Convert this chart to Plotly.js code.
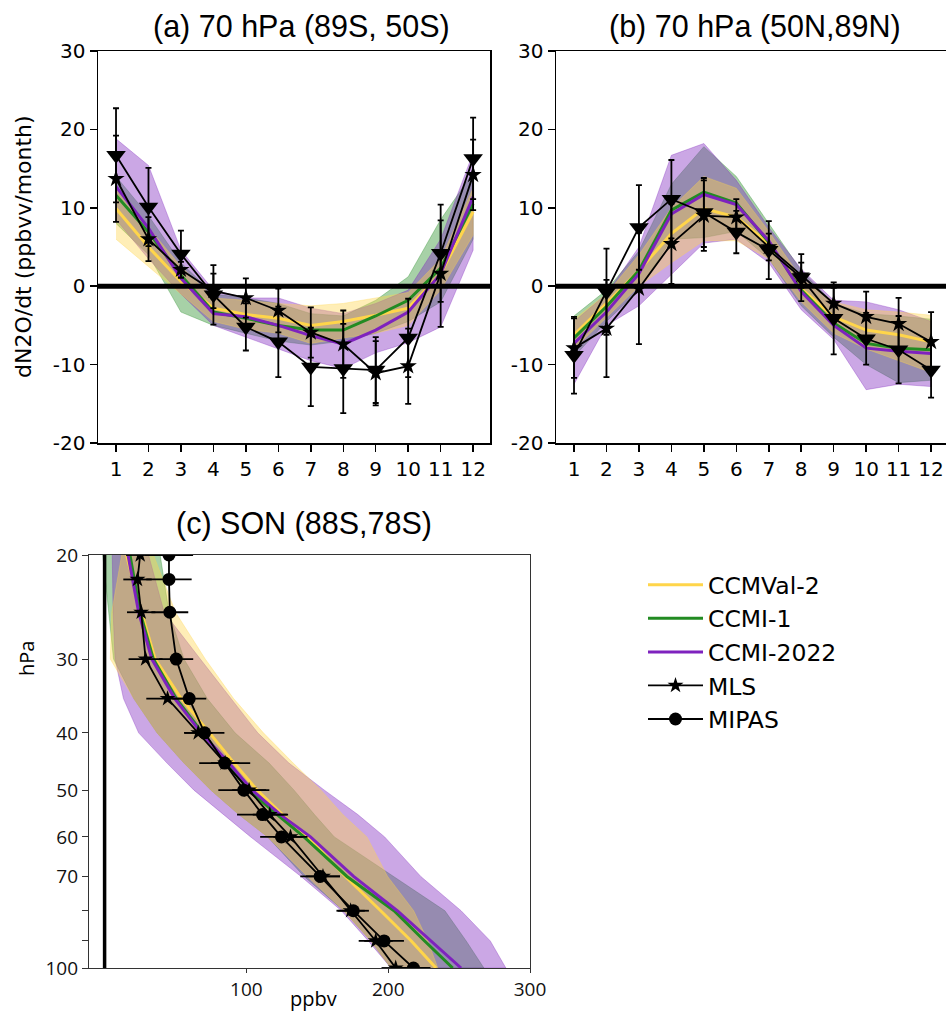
<!DOCTYPE html>
<html>
<head>
<meta charset="utf-8">
<script src="https://cdn.plot.ly/plotly-3.0.1.min.js"></script>
<style>html,body{margin:0;padding:0;background:#fff}#chart{width:946px;height:1011px}</style>
</head>
<body>
<div id="chart"></div>
<script>
// ---------- data ----------
const months = [1,2,3,4,5,6,7,8,9,10,11,12];
const monthLabels = ['1','2','3','4','5','6','7','8','9','10','11','12'];

// panel (a) 70 hPa (89S, 50S)
const a_mls      = [13.7, 6.0, 2.1, -0.6, -1.5, -3.1, -5.9, -7.4, -11.1, -10.2, 1.6, 14.2];
const a_mls_err  = [5.5, 2.8, 1.0, 2.2, 2.5, 2.8, 3.2, 4.3, 4.1, 4.8, 6.8, 4.5];
const a_tri      = [16.7, 10.1, 4.1, -1.1, -5.2, -7.1, -10.3, -10.5, -10.7, -6.6, 4.2, 16.3];
const a_tri_err  = [6.0, 5.0, 3.0, 3.8, 3.0, 4.5, 5.0, 5.7, 4.2, 5.0, 6.2, 5.2];
const a_ccmval    = [9.9, 5.0, 0.6, -2.8, -3.6, -4.1, -5.0, -4.5, -3.7, -2.8, 1.6, 9.5];
const a_ccmval_hi = [12.5, 7.5, 2.5, -1.5, -1.8, -2.2, -2.5, -2.2, -1.5, -0.8, 3.5, 12.5];
const a_ccmval_lo = [6.0, 2.5, -1.0, -4.5, -5.5, -6.0, -7.3, -6.6, -6.0, -5.0, -0.5, 6.5];
const a_ccmi1     = [11.6, 6.9, 1.4, -3.3, -4.1, -5.0, -5.6, -5.6, -3.8, -1.8, 2.3, 10.5];
const a_ccmi1_hi  = [14.0, 9.0, 3.0, -1.0, -1.5, -2.2, -3.5, -3.8, -1.8, 1.2, 8.5, 14.5];
const a_ccmi1_lo  = [8.0, 4.0, -3.3, -5.0, -6.0, -7.0, -7.5, -7.0, -6.0, -4.5, -2.0, 6.0];
const a_ccmi22    = [12.7, 7.4, 1.0, -3.5, -3.9, -5.0, -6.3, -7.4, -5.6, -3.3, 1.6, 11.4];
const a_ccmi22_hi = [18.8, 15.4, 4.6, -0.5, -1.5, -1.5, -2.8, -3.5, -2.2, -0.5, 6.0, 17.0];
const a_ccmi22_lo = [8.5, 3.5, -1.0, -5.0, -6.5, -8.0, -9.5, -10.5, -8.5, -7.2, -5.2, 4.6];

// panel (b) 70 hPa (50N, 89N)
const b_mls      = [-7.9, -5.4, -0.3, 5.4, 9.0, 8.8, 5.0, 1.4, -2.2, -3.9, -4.8, -7.1];
const b_mls_err  = [3.8, 6.2, 7.1, 5.1, 4.5, 2.3, 1.7, 1.6, 2.0, 3.2, 3.3, 3.8];
const b_tri      = [-8.8, -0.7, 7.5, 11.1, 9.4, 6.9, 4.6, 1.1, -4.1, -6.7, -8.1, -10.7];
const b_tri_err  = [4.9, 5.5, 5.4, 5.0, 4.4, 2.7, 3.7, 3.0, 4.6, 3.3, 4.3, 3.5];
const b_ccmval    = [-6.2, -2.2, 2.0, 6.7, 9.9, 8.8, 5.4, -0.3, -3.9, -5.6, -6.2, -7.1];
const b_ccmval_hi = [-4.2, -1.0, 4.0, 10.0, 14.0, 12.5, 7.0, 1.0, -2.0, -3.0, -3.3, -3.7];
const b_ccmval_lo = [-8.0, -4.0, 0.0, 3.0, 5.8, 5.8, 3.5, -2.0, -6.0, -8.0, -9.5, -11.0];
const b_ccmi1     = [-6.6, -2.6, 2.0, 9.7, 12.0, 10.6, 5.6, -0.5, -4.7, -7.3, -7.9, -8.1];
const b_ccmi1_hi  = [-3.8, -0.5, 4.5, 13.0, 17.8, 14.0, 8.0, 2.0, -2.2, -3.5, -3.8, -4.2];
const b_ccmi1_lo  = [-9.0, -4.5, -0.5, 6.0, 6.2, 7.0, 3.5, -2.5, -6.5, -10.0, -12.3, -12.0];
const b_ccmi22    = [-7.3, -3.3, 1.6, 9.2, 11.7, 10.4, 5.8, -0.7, -5.0, -7.9, -8.3, -8.6];
const b_ccmi22_hi = [-4.5, -1.0, 5.0, 16.7, 18.2, 13.5, 7.5, 2.2, -1.8, -2.0, -3.0, -4.5];
const b_ccmi22_lo = [-12.5, -5.0, -2.5, 1.5, 5.5, 6.0, 3.0, -3.0, -6.8, -13.2, -12.5, -12.8];

// panel (c) SON (88S,78S)
const pres_obs    = [20, 22, 25, 30, 35, 40, 45, 50, 55, 60, 70, 80, 90, 100];
const c_mipas     = [45.4, 45.4, 46, 50.5, 59.7, 70.5, 84.7, 98.2, 111.4, 124.7, 152, 175.4, 197.1, 217.8];
const c_mipas_err = [17, 16, 13, 12, 12, 14, 18, 18, 18, 15, 14, 11, 14, 12];
const c_mls       = [25.1, 23.2, 25.8, 28.9, 44.4, 66, 85, 101.9, 116.5, 131.1, 154, 173.5, 191.2, 205.3];
const c_mls_err   = [10, 10, 10, 12, 15, 10, 10, 12, 12, 12, 12, 10, 12, 10];
const pres_mod    = [20, 25, 30, 35, 40, 45, 50, 55, 60, 70, 80, 90, 100];
const c_ccmval    = [15.5, 26, 35.7, 54, 74, 91.3, 107.6, 125.4, 143, 169.8, 194.7, 216.3, 233.7];
const c_ccmval_lo = [12, 5, 4, 20.6, 37, 56, 75, 94.7, 115, 143, 168.6, 187.7, 202];
const c_ccmval_hi = [34.5, 50, 71, 91, 112, 133, 152.6, 168, 185, 199.6, 218, 228, 235];
const c_ccmi1     = [17.9, 25, 34.4, 50.5, 69, 86.6, 101.8, 121.7, 140.6, 170.9, 204.1, 225.7, 245.5];
const c_ccmi1_lo  = [-1.3, 2.8, 6.3, 20.6, 37, 56, 75, 94.7, 115, 140.7, 168.6, 187.7, 202];
const c_ccmi1_hi  = [39.2, 45.4, 56, 72.4, 92, 116, 133.6, 148, 162, 204, 240, 255, 267.5];
const c_ccmi22    = [16.5, 24, 33.3, 49.5, 68, 87.7, 104, 124, 145.2, 175.6, 206.4, 230.4, 251.4];
const c_ccmi22_lo = [5.4, 6, 7.4, 13.3, 24, 44, 63, 84, 103, 138.5, 167, 186, 202];
const c_ccmi22_hi = [31, 42, 67.5, 89, 108, 130, 155, 178.6, 197.5, 223, 251.4, 272, 283];

const pTickVals = [20, 30, 40, 50, 60, 70, 80, 90, 100];
const pTickText = ['20', '30', '40', '50', '60', '70', '', '', '100'];
const yTickVals = [-20, -10, 0, 10, 20, 30];
const yTickText = ['-20', '-10', '0', '10', '20', '30'];

// ---------- styles ----------
const C_YEL = '#FFD54A', C_GRN = '#228B22', C_PUR = '#7E22BE';
const F_YEL = 'rgba(255,213,74,0.4)', F_GRN = 'rgba(34,139,34,0.4)', F_PUR = 'rgba(126,34,190,0.4)';

function bandX(xs, hi, lo) { return { x: xs.concat(xs.slice().reverse()), y: hi.concat(lo.slice().reverse()) }; }
function bandY(ys, lo, hi) { return { x: lo.concat(hi.slice().reverse()), y: ys.concat(ys.slice().reverse()) }; }

const traces = [];
function monthPanel(xa, ya, ccmval, cvhi, cvlo, ccmi1, c1hi, c1lo, ccmi22, c2hi, c2lo, mls, mlsErr, tri, triErr) {
  [[c1hi, c1lo, F_GRN], [c2hi, c2lo, F_PUR], [cvhi, cvlo, F_YEL]].forEach(([hi, lo, col]) => {
    const b = bandX(months, hi, lo);
    traces.push({ x: b.x, y: b.y, xaxis: xa, yaxis: ya, type: 'scatter', mode: 'lines', fill: 'toself',
      fillcolor: col, line: { color: col, width: 0.8 }, showlegend: false, hoverinfo: 'skip' });
  });
  [[ccmval, C_YEL], [ccmi1, C_GRN], [ccmi22, C_PUR]].forEach(([v, col]) => {
    traces.push({ x: months, y: v, xaxis: xa, yaxis: ya, type: 'scatter', mode: 'lines',
      line: { color: col, width: 3 }, showlegend: false });
  });
  traces.push({ x: months, y: tri, xaxis: xa, yaxis: ya, type: 'scatter', mode: 'lines+markers',
    line: { color: 'black', width: 1.8 }, marker: { symbol: 'triangle-down', size: 17, color: 'black' },
    error_y: { type: 'data', array: triErr, visible: true, color: 'black', thickness: 1.8, width: 3 }, showlegend: false });
  traces.push({ x: months, y: mls, xaxis: xa, yaxis: ya, type: 'scatter', mode: 'lines+markers',
    line: { color: 'black', width: 1.8 }, marker: { symbol: 'star', size: 13, color: 'black' },
    error_y: { type: 'data', array: mlsErr, visible: true, color: 'black', thickness: 1.8, width: 3 }, showlegend: false });
}
monthPanel('x', 'y', a_ccmval, a_ccmval_hi, a_ccmval_lo, a_ccmi1, a_ccmi1_hi, a_ccmi1_lo, a_ccmi22, a_ccmi22_hi, a_ccmi22_lo, a_mls, a_mls_err, a_tri, a_tri_err);
monthPanel('x2', 'y2', b_ccmval, b_ccmval_hi, b_ccmval_lo, b_ccmi1, b_ccmi1_hi, b_ccmi1_lo, b_ccmi22, b_ccmi22_hi, b_ccmi22_lo, b_mls, b_mls_err, b_tri, b_tri_err);

// panel c
[[c_ccmi1_lo, c_ccmi1_hi, F_GRN], [c_ccmi22_lo, c_ccmi22_hi, F_PUR], [c_ccmval_lo, c_ccmval_hi, F_YEL]].forEach(([lo, hi, col]) => {
  const b = bandY(pres_mod, lo, hi);
  traces.push({ x: b.x, y: b.y, xaxis: 'x3', yaxis: 'y3', type: 'scatter', mode: 'lines', fill: 'toself',
    fillcolor: col, line: { color: col, width: 0.8 }, showlegend: false, hoverinfo: 'skip' });
});
[[c_ccmval, C_YEL, 'CCMVal-2'], [c_ccmi1, C_GRN, 'CCMI-1'], [c_ccmi22, C_PUR, 'CCMI-2022']].forEach(([v, col, nm]) => {
  traces.push({ x: v, y: pres_mod, xaxis: 'x3', yaxis: 'y3', type: 'scatter', mode: 'lines', name: nm,
    line: { color: col, width: 3 } });
});
traces.push({ x: c_mls, y: pres_obs, xaxis: 'x3', yaxis: 'y3', type: 'scatter', mode: 'lines+markers', name: 'MLS',
  line: { color: 'black', width: 1.8 }, marker: { symbol: 'star', size: 12, color: 'black' },
  error_x: { type: 'data', array: c_mls_err, visible: true, color: 'black', thickness: 1.8, width: 0 } });
traces.push({ x: c_mipas, y: pres_obs, xaxis: 'x3', yaxis: 'y3', type: 'scatter', mode: 'lines+markers', name: 'MIPAS',
  line: { color: 'black', width: 1.8 }, marker: { symbol: 'circle', size: 13, color: 'black' },
  error_x: { type: 'data', array: c_mipas_err, visible: true, color: 'black', thickness: 1.8, width: 0 } });

// ---------- layout ----------
const W = 946, H = 1011;
const px = v => v / W, py = v => 1 - v / H;
const tickFont = { family: 'DejaVu Sans', size: 20, color: 'black' };
const monthX = (dom, rng) => ({ domain: dom, range: rng, tickmode: 'array', tickvals: months, ticktext: monthLabels,
  ticks: 'outside', ticklen: 7, tickwidth: 1.5, tickcolor: 'black', showline: true, mirror: true, linecolor: 'black', linewidth: 1.5,
  showgrid: false, zeroline: false, tickfont: tickFont, fixedrange: true });
const valY = (dom, anchor) => ({ domain: dom, anchor: anchor, range: [-20, 30], tickmode: 'array', tickvals: yTickVals, ticktext: yTickText,
  ticks: 'outside', ticklen: 7, tickwidth: 1.5, tickcolor: 'black', showline: true, mirror: true, linecolor: 'black', linewidth: 1.5,
  showgrid: false, zeroline: false, tickfont: tickFont, fixedrange: true });

const layout = {
  width: W, height: H, margin: { l: 0, r: 0, t: 0, b: 0 }, paper_bgcolor: 'white', plot_bgcolor: 'white',
  xaxis: Object.assign(monthX([px(98), px(490)], [0.445, 12.52]), { anchor: 'y' }),
  yaxis: valY([py(443), py(51)], 'x'),
  xaxis2: Object.assign(monthX([px(556), 1], [0.445, 12.46]), { anchor: 'y2' }),
  yaxis2: valY([py(443), py(51)], 'x2'),
  xaxis3: { domain: [px(89), px(530)], anchor: 'y3', range: [-11, 300], tickmode: 'array', tickvals: [100, 200, 300],
    ticks: 'outside', ticklen: 4, tickcolor: '#333', showline: true, mirror: true, linecolor: '#333', linewidth: 1.2,
    showgrid: false, zeroline: false, tickfont: { family: 'Open Sans', size: 19, color: '#111' }, fixedrange: true },
  yaxis3: { domain: [py(968), py(555)], anchor: 'x3', type: 'log', range: [2, Math.log10(20)], tickmode: 'array',
    tickvals: pTickVals, ticktext: pTickText, ticks: 'outside', ticklen: 6, tickcolor: '#333', showline: true, mirror: true,
    linecolor: '#333', linewidth: 1.2, showgrid: false, zeroline: false, tickfont: { family: 'Open Sans', size: 19, color: '#111' }, fixedrange: true },
  showlegend: true,
  legend: { x: px(643), y: py(563), xanchor: 'left', yanchor: 'top', font: { family: 'DejaVu Sans', size: 23.5, color: 'black' },
    bgcolor: 'rgba(0,0,0,0)', itemwidth: 55, tracegroupgap: 0, traceorder: 'normal' },
  shapes: [
    { type: 'line', xref: 'x domain', x0: 0, x1: 1, yref: 'y', y0: 0, y1: 0, line: { color: 'black', width: 5 } },
    { type: 'line', xref: 'x2 domain', x0: 0, x1: 1, yref: 'y2', y0: 0, y1: 0, line: { color: 'black', width: 5 } },
    { type: 'line', xref: 'x3', x0: 0, x1: 0, yref: 'y3 domain', y0: 0, y1: 1, line: { color: 'black', width: 3.5 } }
  ],
  annotations: [
    { text: '(a) 70 hPa (89S, 50S)', xref: 'paper', yref: 'paper', x: px(301), y: py(26), showarrow: false,
      xanchor: 'center', yanchor: 'middle', font: { family: 'Liberation Sans', size: 30.5, color: 'black' } },
    { text: '(b) 70 hPa (50N,89N)', xref: 'paper', yref: 'paper', x: px(755), y: py(26), showarrow: false,
      xanchor: 'center', yanchor: 'middle', font: { family: 'Liberation Sans', size: 30.5, color: 'black' } },
    { text: '(c) SON (88S,78S)', xref: 'paper', yref: 'paper', x: px(304), y: py(523), showarrow: false,
      xanchor: 'center', yanchor: 'middle', font: { family: 'Liberation Sans', size: 30.5, color: 'black' } },
    { text: 'dN2O/dt (ppbvv/month)', xref: 'paper', yref: 'paper', x: px(24), y: py(247), showarrow: false, textangle: -90,
      xanchor: 'center', yanchor: 'middle', font: { family: 'DejaVu Sans', size: 22, color: 'black' } },
    { text: 'hPa', xref: 'paper', yref: 'paper', x: px(26), y: py(659), showarrow: false, textangle: -90,
      xanchor: 'center', yanchor: 'middle', font: { family: 'Open Sans', size: 20, color: 'black' } },
    { text: 'ppbv', xref: 'paper', yref: 'paper', x: px(313), y: py(998), showarrow: false,
      xanchor: 'center', yanchor: 'middle', font: { family: 'Open Sans', size: 20, color: 'black' } }
  ]
};

Plotly.newPlot('chart', traces, layout, { displayModeBar: false, staticPlot: true });
</script>
</body>
</html>
